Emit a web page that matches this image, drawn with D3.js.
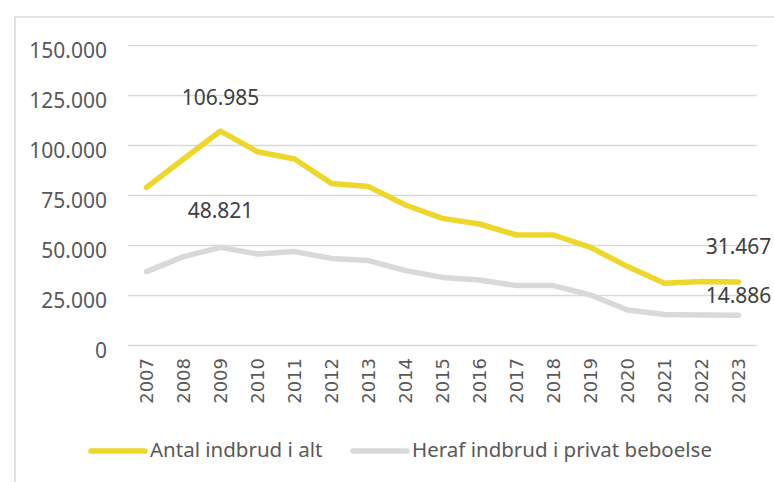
<!DOCTYPE html>
<html>
<head>
<meta charset="utf-8">
<script src="https://cdn.jsdelivr.net/npm/d3@7"></script>
<style>
  body { margin: 0; background: #fff; }
  text { font-family: "Noto Sans", "Open Sans", sans-serif; }
  .y-axis text { fill: #595959; font-size: 21px; }
  .x-axis text { fill: #595959; font-size: 18px; font-family: "DejaVu Sans", sans-serif; }
  .val-label { fill: #404040; font-size: 21px; }
  .legend text { fill: #595959; font-size: 20.5px; }
</style>
</head>
<body>
<div id="chart"></div>
<script>
// data
var years = ["2007","2008","2009","2010","2011","2012","2013","2014","2015","2016","2017","2018","2019","2020","2021","2022","2023"];
var totalBurglaries = [78800, 93000, 106985, 96600, 93000, 80800, 79200, 70000, 63300, 60500, 55000, 55000, 48800, 39200, 30900, 31800, 31467];
var privateBurglaries = [36700, 44200, 48821, 45500, 46700, 43300, 42200, 37200, 33800, 32500, 29700, 29700, 25000, 17500, 15300, 15000, 14886];
var yTicks = [0, 25000, 50000, 75000, 100000, 125000, 150000];
var seriesNames = ["Antal indbrud i alt", "Heraf indbrud i privat beboelse"];
var seriesColors = ["#EDD72A", "#D9D9D9"];

var svgWidth = 774;
var svgHeight = 482;

var margin = { top: 45, right: 17, bottom: 137, left: 128 };
var chartWidth = svgWidth - margin.left - margin.right;
var chartHeight = svgHeight - margin.top - margin.bottom;

var da = d3.formatLocale({ decimal: ",", thousands: ".", grouping: [3], currency: ["", " kr."] });
var fmt = da.format(",");

var svg = d3.select("#chart")
    .append("svg")
    .attr("width", svgWidth)
    .attr("height", svgHeight);

// outer frame
svg.append("rect")
    .attr("x", 15)
    .attr("y", 17)
    .attr("width", svgWidth + 20)
    .attr("height", svgHeight + 20)
    .attr("fill", "none")
    .attr("stroke", "#D9D9D9")
    .attr("stroke-width", 1.5);

var chartGroup = svg.append("g")
    .attr("transform", `translate(${margin.left},${margin.top})`);

var xScale = d3.scaleBand()
    .domain(years)
    .range([0, chartWidth]);

var yScale = d3.scaleLinear()
    .domain([0, 150000])
    .range([chartHeight, 0]);

var cx = d => xScale(d) + xScale.bandwidth() / 2;

// y axis with gridlines
var leftAxis = d3.axisLeft(yScale)
    .tickValues(yTicks)
    .tickSize(-chartWidth)
    .tickPadding(21)
    .tickFormat(fmt);

var yAxis = chartGroup.append("g")
    .classed("y-axis", true)
    .call(leftAxis);
yAxis.select(".domain").remove();
yAxis.selectAll("line")
    .attr("stroke", "#D9D9D9")
    .attr("stroke-width", 1.5);
yAxis.selectAll("text").attr("dy", "0.58em");

// x axis labels, rotated
var xAxis = chartGroup.append("g")
    .classed("x-axis", true);
xAxis.selectAll("text")
    .data(years)
    .enter()
    .append("text")
    .attr("transform", d => `translate(${cx(d) + 6.5}, ${chartHeight + 13}) rotate(-90)`)
    .attr("text-anchor", "end")
    .text(d => d);

// lines
var line = d3.line()
    .x((d, i) => cx(years[i]))
    .y(d => yScale(d));

[totalBurglaries, privateBurglaries].forEach(function(series, k) {
    chartGroup.append("path")
        .datum(series)
        .attr("d", line)
        .attr("fill", "none")
        .attr("stroke", seriesColors[k])
        .attr("stroke-width", 5.5)
        .attr("stroke-linejoin", "round")
        .attr("stroke-linecap", "round");
});

// point labels (series, index, vertical offset)
var pointLabels = [
    [totalBurglaries, 2, -26],
    [privateBurglaries, 2, -29],
    [totalBurglaries, 16, -28],
    [privateBurglaries, 16, -12]
];
chartGroup.selectAll("text.val-label")
    .data(pointLabels)
    .enter()
    .append("text")
    .classed("val-label", true)
    .attr("x", d => cx(years[d[1]]))
    .attr("y", d => yScale(d[0][d[1]]) + d[2])
    .attr("text-anchor", "middle")
    .text(d => fmt(d[0][d[1]]));

// legend
var legend = svg.append("g").classed("legend", true);
var legendX = [91, 353];
seriesNames.forEach(function(name, k) {
    legend.append("line")
        .attr("x1", legendX[k])
        .attr("x2", legendX[k] + 54)
        .attr("y1", 451)
        .attr("y2", 451)
        .attr("stroke", seriesColors[k])
        .attr("stroke-width", 5.5)
        .attr("stroke-linecap", "round");
    legend.append("text")
        .attr("x", legendX[k] + 59)
        .attr("y", 457)
        .text(name);
});
</script>
</body>
</html>
